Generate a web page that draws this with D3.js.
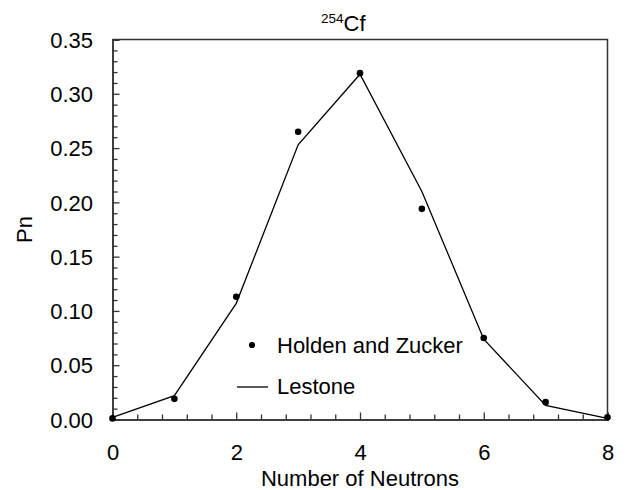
<!DOCTYPE html>
<html>
<head>
<meta charset="utf-8">
<script src="https://cdn.jsdelivr.net/npm/d3@7/dist/d3.min.js"></script>
<style>
  html, body { margin: 0; padding: 0; background: #fff; }
  svg { display: block; font-family: "Liberation Sans", Arial, sans-serif; }
</style>
</head>
<body>
<svg id="chart" width="628" height="490"></svg>
<script>
// ---- data ----
const neutrons = [0, 1, 2, 3, 4, 5, 6, 7, 8];
const holdenZucker = [0.001, 0.019, 0.113, 0.265, 0.319, 0.194, 0.075, 0.016, 0.002];
const lestone = [0.002, 0.022, 0.107, 0.253, 0.318, 0.210, 0.074, 0.013, 0.001];
const xMajorTicks = [0, 2, 4, 6, 8];
const xMinorTicks = [0.4, 0.8, 1.2, 1.6, 2.4, 2.8, 3.2, 3.6, 4.4, 4.8, 5.2, 5.6, 6.4, 6.8, 7.2, 7.6];
const yMajorTicks = [0, 0.05, 0.10, 0.15, 0.20, 0.25, 0.30, 0.35];
const yMinorTicks = [0.01, 0.02, 0.03, 0.04, 0.06, 0.07, 0.08, 0.09, 0.11, 0.12, 0.13, 0.14,
  0.16, 0.17, 0.18, 0.19, 0.21, 0.22, 0.23, 0.24, 0.26, 0.27, 0.28, 0.29, 0.31, 0.32, 0.33, 0.34];
const seriesNames = ["Holden and Zucker", "Lestone"];
const titleSup = "254";
const titleMain = "Cf";
const xLabel = "Number of Neutrons";
const yLabel = "Pn";

(function () {
  // ---- layout ----
  const pL = 112.5, pR = 607.5, pT = 39.5, pB = 419.5;
  const FS = 22;
  const svg = d3.select("#chart");

  const x = d3.scaleLinear().domain([0, 8]).range([pL, pR]);
  const y = d3.scaleLinear().domain([0, 0.35]).range([pB, pT]);

  const axisColor = "#333";

  // frame (top & right)
  svg.append("path")
    .attr("d", `M${pL},${pT}H${pR}V${pB}`)
    .attr("fill", "none").attr("stroke", axisColor).attr("stroke-width", 1.5);

  // y axis
  const yMinor = svg.append("g").attr("transform", `translate(${pL},0)`)
    .call(d3.axisLeft(y).tickValues(yMinorTicks).tickSize(-5).tickFormat(""));
  const yMajor = svg.append("g").attr("transform", `translate(${pL},0)`)
    .call(d3.axisLeft(y).tickValues(yMajorTicks).tickSize(-7).tickPadding(19.5).tickFormat(d3.format(".2f")));

  // x axis
  const xMinor = svg.append("g").attr("transform", `translate(0,${pB})`)
    .call(d3.axisBottom(x).tickValues(xMinorTicks).tickSize(-5).tickFormat(""));
  const xMajor = svg.append("g").attr("transform", `translate(0,${pB})`)
    .call(d3.axisBottom(x).tickValues(xMajorTicks).tickSize(-7).tickPadding(24.5).tickFormat(d3.format("d")));

  [yMinor, yMajor, xMinor, xMajor].forEach(g => {
    g.select(".domain").attr("stroke", axisColor).attr("stroke-width", 1.5);
    g.selectAll(".tick line").attr("stroke", axisColor).attr("stroke-width", 1.3);
    g.selectAll(".tick text").attr("fill", "#000").attr("font-size", FS)
      .attr("font-family", "'Liberation Sans', Arial, sans-serif");
  });
  yMajor.selectAll(".tick text").attr("dy", "0.35em");
  xMajor.selectAll(".tick text").attr("dy", "0.71em");

  // Lestone line
  const line = d3.line().x((d, i) => x(neutrons[i])).y(d => y(d));
  svg.append("path").datum(lestone)
    .attr("d", line).attr("fill", "none").attr("stroke", "#000").attr("stroke-width", 1.3);

  // Holden and Zucker points
  svg.append("g").selectAll("circle").data(holdenZucker).join("circle")
    .attr("cx", (d, i) => x(neutrons[i])).attr("cy", d => y(d)).attr("r", 3.3).attr("fill", "#000");

  // legend
  const lg = svg.append("g");
  lg.append("circle").attr("cx", 252).attr("cy", 345).attr("r", 3.1).attr("fill", "#000");
  lg.append("text").attr("x", 277).attr("y", 352.5).attr("font-size", FS).text(seriesNames[0]);
  lg.append("line").attr("x1", 237).attr("x2", 268).attr("y1", 387).attr("y2", 387)
    .attr("stroke", "#000").attr("stroke-width", 1.3);
  lg.append("text").attr("x", 277).attr("y", 394).attr("font-size", FS).text(seriesNames[1]);

  // title
  const t = svg.append("text").attr("x", 321).attr("y", 30.5).attr("font-size", FS);
  t.append("tspan").attr("font-size", 13.5).attr("dy", -8).text(titleSup);
  t.append("tspan").attr("dy", 8).text(titleMain);

  // axis titles
  svg.append("text").attr("x", (pL + pR) / 2).attr("y", 485.5).attr("text-anchor", "middle")
    .attr("font-size", FS).text(xLabel);
  svg.append("text").attr("transform", `translate(31.5,${(pT + pB) / 2}) rotate(-90)`)
    .attr("text-anchor", "middle").attr("font-size", FS).text(yLabel);
})();
</script>
</body>
</html>
